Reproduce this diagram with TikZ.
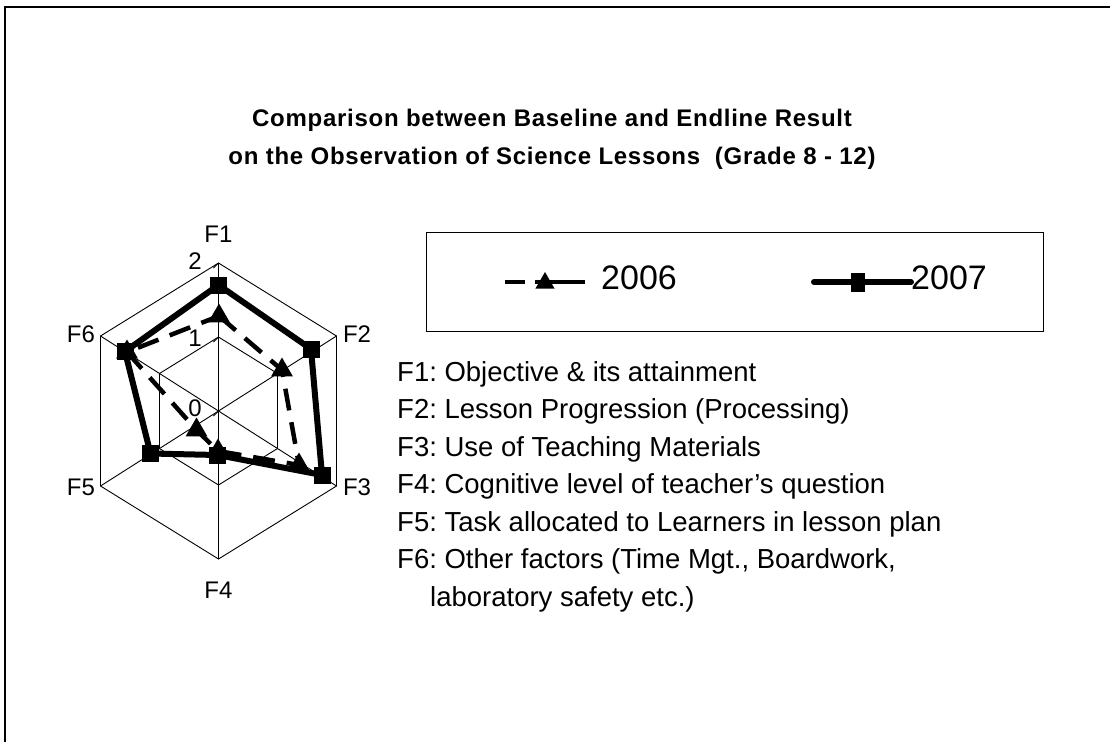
\documentclass[tikz,border=0pt]{standalone}
\usepackage{fontspec}
\setmainfont{Liberation Sans}
\usepackage{tikz}
\usetikzlibrary{shapes.geometric}
\frenchspacing

\begin{document}
\begin{tikzpicture}[x=1pt, y=-1pt]
    % Define styles
    \tikzstyle{axislabel} = [font=\fontsize{24}{24}\selectfont, inner sep=0pt]
    \tikzstyle{grid} = [draw, line width=0.9pt]
    \tikzstyle{tri} = [regular polygon, regular polygon sides=3, fill=black, inner sep=0pt, minimum size=25pt]
    \tikzstyle{sq} = [rectangle, fill=black, inner sep=0pt, minimum size=17pt]
    \tikzstyle{dashline} = [draw, line width=4.5pt, dash pattern=on 22pt off 12pt]
    \tikzstyle{fullline} = [draw, line width=6pt, line join=round]

    \useasboundingbox (0,0) rectangle (1110,742);
    \draw [line width=1.5pt] (5,742) -- (5,7) -- (1110,7);

    % Title
    \node [align=center, font=\fontsize{24}{38}\selectfont\bfseries\addfontfeature{LetterSpace=3}] (title) at (552,139)
        {Comparison between Baseline and Endline Result\\on the Observation of Science Lessons\ \ (Grade 8 - 12)};

    % Grid
    \coordinate (c) at (218.5,411);
    \coordinate (g1) at (218.5,263);
    \coordinate (g2) at (336.5,336);
    \coordinate (g3) at (336.5,486);
    \coordinate (g4) at (218.5,559);
    \coordinate (g5) at (100.5,486);
    \coordinate (g6) at (100.5,336);
    \coordinate (h1) at (218.5,337);
    \coordinate (h2) at (277.5,373.5);
    \coordinate (h3) at (277.5,448.5);
    \coordinate (h4) at (218.5,485);
    \coordinate (h5) at (159.5,448.5);
    \coordinate (h6) at (159.5,373.5);
    \path [grid] (g1) -- (g2) -- (g3) -- (g4) -- (g5) -- (g6) -- cycle;
    \path [grid] (h1) -- (h2) -- (h3) -- (h4) -- (h5) -- (h6) -- cycle;
    \path [grid] (g1) -- (g4);
    \path [grid] (g2) -- (g5);
    \path [grid] (g3) -- (g6);
    \path [grid] (g1) -- ++(-5,5);
    \path [grid] (h1) -- ++(-5,5);
    \path [grid] (c) -- ++(-5,5);

    % Axis labels
    \node [axislabel] (f1) at (218.5,234) {F1};
    \node [axislabel] (f2) at (357,334) {F2};
    \node [axislabel] (f3) at (357,487) {F3};
    \node [axislabel] (f4) at (218.5,590) {F4};
    \node [axislabel] (f5) at (81,487) {F5};
    \node [axislabel] (f6) at (81,334) {F6};
    \node [axislabel, anchor=east] (v2) at (202,261) {2};
    \node [axislabel, anchor=east] (v1) at (202,338) {1};
    \node [axislabel, anchor=east] (v0) at (202,408) {0};

    % Nodes (2006)
    \node [tri] (b1) at (219,316) {};
    \node [tri] (b2) at (282,370) {};
    \node [tri] (b3) at (299,465) {};
    \node [tri] (b4) at (218,451) {};
    \node [tri] (b5) at (196.5,430) {};
    \node [tri] (b6) at (127,352) {};

    % Connections (2006)
    \path [dashline] (b1.center) -- (b2.center) -- (b3.center) -- (b4.center) -- (b5.center) -- (b6.center) -- cycle;

    % Nodes (2007)
    \node [sq] (e1) at (218.5,285) {};
    \node [sq] (e2) at (311,349) {};
    \node [sq] (e3) at (322,475) {};
    \node [sq] (e4) at (217.5,455) {};
    \node [sq] (e5) at (150.5,453.5) {};
    \node [sq] (e6) at (125,351.5) {};

    % Connections (2007)
    \path [fullline] (e1.center) -- (e2.center) -- (e3.center) -- (e4.center) -- (e5.center) -- (e6.center) -- cycle;

    % Legend
    \node [draw, line width=1pt, minimum width=617pt, minimum height=99pt, inner sep=0pt] (legend) at (734.5,281.5) {};
    \coordinate (l1a) at (505,282);
    \coordinate (l1b) at (585,282);
    \coordinate (l2a) at (814,282);
    \coordinate (l2b) at (911,282);
    \path [dashline, dash pattern=on 20pt off 10pt on 60pt off 10pt] (l1a) -- (l1b);
    \node [tri, minimum size=22pt] (k1) at (545,283) {};
    \path [fullline, line cap=round] (l2a) -- (l2b);
    \node [sq, minimum width=14pt, minimum height=19pt] (k2) at (858,282) {};
    \node [anchor=west, inner sep=0pt, font=\fontsize{34}{34}\selectfont] (y1) at (601,278) {2006};
    \node [anchor=west, inner sep=0pt, font=\fontsize{34}{34}\selectfont] (y2) at (911,278) {2007};

    % Key
    \node [anchor=north west, align=left, inner sep=0pt, font=\fontsize{27.5}{37.5}\selectfont] (keys) at (397,361)
        {F1: Objective \& its attainment\\
         F2: Lesson Progression (Processing)\\
         F3: Use of Teaching Materials\\
         F4: Cognitive level of teacher's question\\
         F5: Task allocated to Learners in lesson plan\\
         F6: Other factors (Time Mgt., Boardwork,\\
         \hspace*{33pt}laboratory safety etc.)};
\end{tikzpicture}
\end{document}
